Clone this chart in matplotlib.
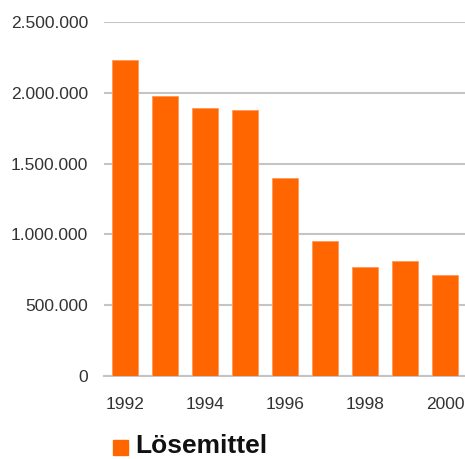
import numpy as np
import matplotlib.pyplot as plt
from matplotlib.patches import Rectangle

years = [1992, 1993, 1994, 1995, 1996, 1997, 1998, 1999, 2000]
values = [2232000, 1979000, 1894000, 1880000, 1401000, 951000, 768000, 810000, 711000]
yticks = [0, 500000, 1000000, 1500000, 2000000, 2500000]
ytick_labels = ['0', '500.000', '1.000.000', '1.500.000', '2.000.000', '2.500.000']
series_name = 'Lösemittel'
orange = '#ff6600'

plt.rcParams['font.family'] = ['Liberation Sans', 'DejaVu Sans']

fig = plt.figure(figsize=(4.65, 4.59), dpi=100)
ax = fig.add_axes([0.2237, 0.1808, 0.7763, 0.7712])

x = np.arange(len(years))
ax.bar(x, values, width=0.65, color=orange, edgecolor='#ff9a5c', linewidth=0.6, zorder=3)

ax.set_ylim(0, 2500000)
ax.set_xlim(-0.525, 8.5)
ax.set_yticks(yticks)
ax.set_yticklabels(ytick_labels)
ax.set_xticks(x[::2])
ax.set_xticklabels([str(y) for y in years[::2]])
ax.tick_params(axis='both', length=0, labelsize=12.5, colors='#333333')
ax.tick_params(axis='y', pad=11.5)
ax.tick_params(axis='x', pad=15)

ax.grid(axis='y', color='#c4c4c4', linewidth=1.5, zorder=0)
for s in ax.spines.values():
    s.set_visible(False)
ax.axhline(0, color='#c4c4c4', linewidth=1.5, zorder=2, clip_on=False)

# legend at the bottom
fig.patches.append(Rectangle((113 / 465, 1 - 455 / 459), 15 / 465, 15 / 459,
                             transform=fig.transFigure, color=orange))
fig.text(135 / 465, 1 - 453 / 459, series_name, fontsize=19, fontweight='bold',
         va='baseline', ha='left', color='#111111')

fig.savefig('out.png', dpi=100)
